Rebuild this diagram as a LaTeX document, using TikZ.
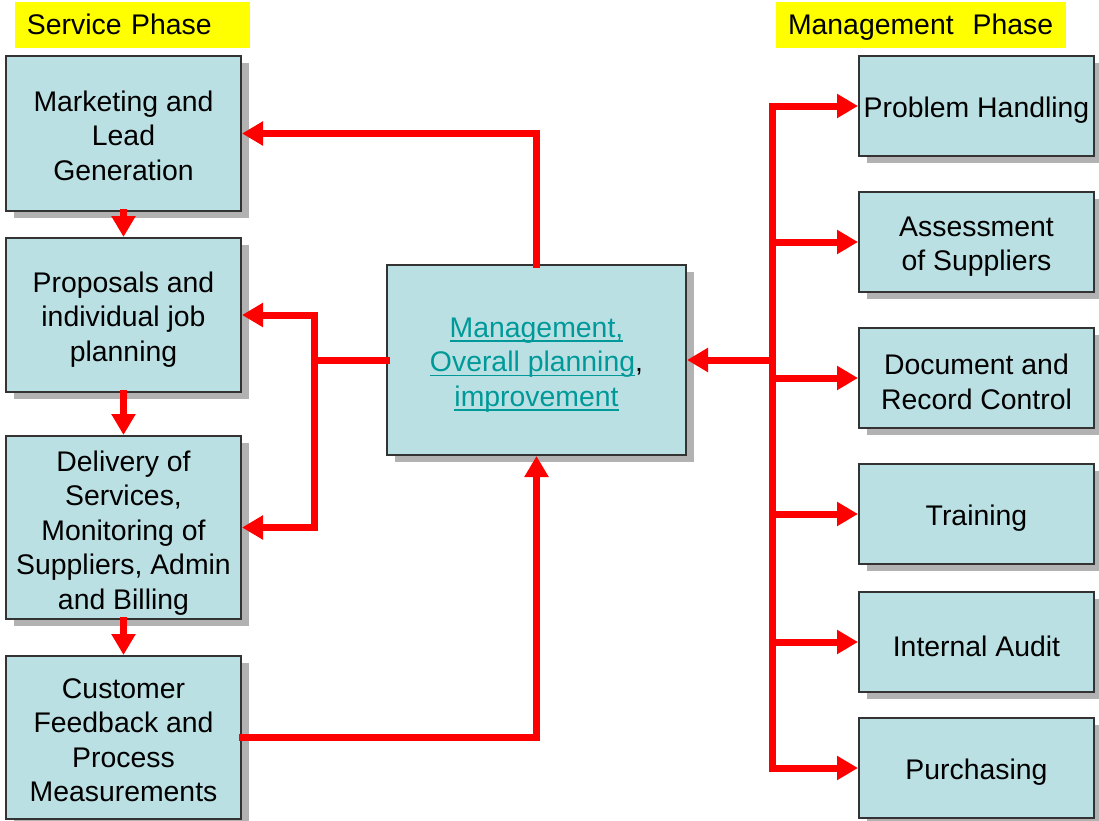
\documentclass[tikz,border=0pt]{standalone}
\usepackage{fontspec}
\setmainfont{Liberation Sans}
\usetikzlibrary{arrows.meta,shadows,calc}

\definecolor{boxfill}{HTML}{BBE0E3}
\definecolor{boxline}{HTML}{333333}
\definecolor{shade}{HTML}{B2B2B2}
\definecolor{linkteal}{RGB}{0,153,153}
\definecolor{tagyellow}{HTML}{FFFF00}
\definecolor{flow}{HTML}{FF0000}

% underlined link-style text
\newcommand{\lnk}[1]{\leavevmode\setbox0\hbox{#1}\rlap{\rule[-4.5bp]{\wd0}{1.6bp}}\box0}
% invisible strut on a first line that lowers a centred text block by #1
\newcommand{\dn}[1]{\rule{0pt}{\dimexpr 20.6bp+#1*2\relax}}

\tikzset{
  stepbox/.style={draw=boxline, line width=2bp, fill=boxfill, inner sep=0pt,
    align=center, font=\fontsize{28.5}{34.5}\selectfont,
    drop shadow={opacity=1, fill=shade, shadow xshift=8bp, shadow yshift=-7bp}},
  leftbox/.style={stepbox, minimum width=235bp},
  rightbox/.style={stepbox, minimum width=235bp, minimum height=100bp},
  phasetag/.style={fill=tagyellow, inner xsep=12bp, inner ysep=0pt, align=left,
    font=\fontsize{28.5}{34.5}\selectfont, text height=22.5bp, text depth=2.5bp,
    minimum height=46bp},
  wire/.style={draw=flow, line width=7bp, line cap=rect, line join=miter},
  arr/.style={wire, -{Triangle[length=21bp,width=23bp]}},
}

\begin{document}
\begin{tikzpicture}[x=1bp, y=-1bp]
  \useasboundingbox[fill=white] (0,0) rectangle (1099,821);

  % phase headings
  \node[phasetag, text width=211bp] (sp) at (132.5,25) {Service Phase};
  \node[phasetag, text width=266bp] (mp) at (921,25) {Management\ \ Phase};

  % service phase column
  \node[leftbox, minimum height=155bp] (mkt) at (123.5,133.5) {\dn{2bp}Marketing and\\Lead\\Generation};
  \node[leftbox, minimum height=154bp] (prop) at (123.5,315) {\dn{4.5bp}Proposals and\\individual job\\planning};
  \node[leftbox, minimum height=183bp] (del) at (123.5,527.5) {\dn{5.5bp}Delivery of\\Services,\\Monitoring of\\Suppliers, Admin\\and Billing};
  \node[leftbox, minimum height=163bp] (cust) at (123.5,737.5) {\dn{2.5bp}Customer\\Feedback and\\Process\\Measurements};

  % central management box
  \node[stepbox, minimum width=299bp, minimum height=190bp] (mg) at (536.5,360)
    {\dn{4.5bp}\color{linkteal}\lnk{Management,}\\\color{linkteal}\lnk{Overall planning}\color{black},\\\color{linkteal}\lnk{improvement}};

  % management phase column
  \node[rightbox] (ph) at (976.5,106) {\dn{4bp}Problem Handling};
  \node[rightbox] (as) at (976.5,242) {\dn{4bp}Assessment\\of Suppliers};
  \node[rightbox] (dc) at (976.5,378) {\dn{4bp}Document and\\Record Control};
  \node[rightbox] (tr) at (976.5,514) {\dn{4bp}Training};
  \node[rightbox] (ia) at (976.5,642) {\dn{4bp}Internal Audit};
  \node[rightbox] (pu) at (976.5,768) {\dn{4.5bp}Purchasing};

  % junction lines
  \coordinate (lj) at (314,0);
  \coordinate (rj) at (772,0);

  % service phase sequence
  \draw[arr] (mkt.south) -- (prop.north);
  \draw[arr] (prop.south) -- (del.north);
  \draw[arr] (del.south) -- (cust.north);

  % feedback into management and planning back out
  \draw[arr] (mg.north) |- (mkt.east);
  \draw[arr] (cust.east) -| (mg.south);
  \draw[wire] (mg.west) -- (lj |- mg.west);
  \draw[wire] (lj |- prop.east) -- (lj |- del.east);
  \draw[arr] (lj |- prop.east) -- (prop.east);
  \draw[arr] (lj |- del.east) -- (del.east);

  % management phase distribution
  \draw[wire] (rj |- ph.west) -- (rj |- pu.west);
  \draw[arr] (rj |- mg.east) -- (mg.east);
  \foreach \b in {ph,as,dc,tr,ia,pu}
    \draw[arr] (rj |- \b.west) -- (\b.west);
\end{tikzpicture}
\end{document}
